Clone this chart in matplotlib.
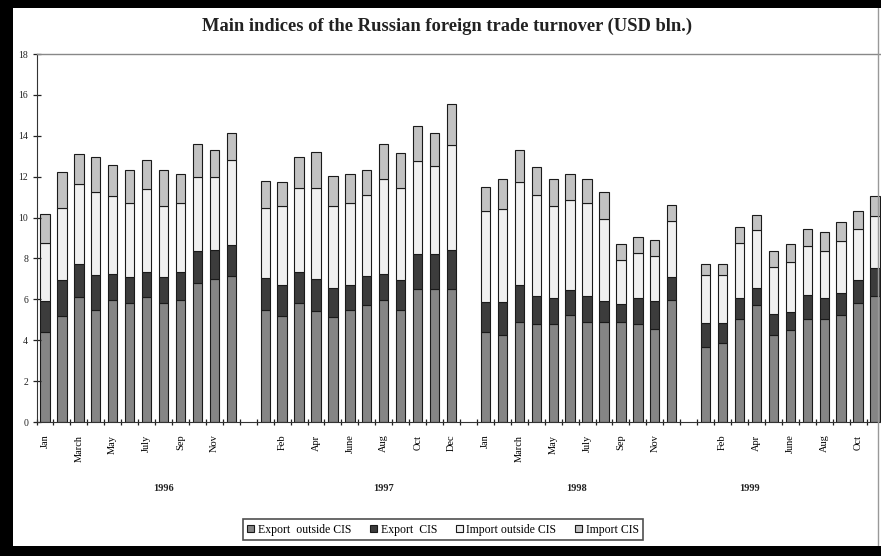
import numpy as np
import matplotlib
matplotlib.use("Agg")
import matplotlib.pyplot as plt
from matplotlib.patches import Rectangle
from matplotlib.lines import Line2D

plt.rcParams['font.family'] = ['Liberation Serif', 'DejaVu Serif']

# ---- data (USD bln.), months Jan 1996 .. Nov 1999 -----------------
years = ["1996", "1997", "1998", "1999"]
months_1996 = ["Jan", "Feb", "March", "Apr", "May", "June", "July", "Aug", "Sep", "Oct", "Nov", "Dec"]
months_1997 = ["Jan", "Feb", "March", "Apr", "May", "June", "July", "Aug", "Sep", "Oct", "Nov", "Dec"]
months_1998 = ["Jan", "Feb", "March", "Apr", "May", "June", "July", "Aug", "Sep", "Oct", "Nov", "Dec"]
months_1999 = ["Jan", "Feb", "March", "Apr", "May", "June", "July", "Aug", "Sep", "Oct", "Nov"]
# labels shown on the axis (every second category)
shown_1996 = ["Jan", "March", "May", "July", "Sep", "Nov"]
shown_1997 = ["Feb", "Apr", "June", "Aug", "Oct", "Dec"]
shown_1998 = ["Jan", "March", "May", "July", "Sep", "Nov"]
shown_1999 = ["Feb", "Apr", "June", "Aug", "Oct"]

# cumulative levels
exp_out_1996 = [4.42, 5.19, 6.10, 5.48, 5.97, 5.84, 6.10, 5.84, 5.97, 6.78, 6.98, 7.14]
exp_tot_1996 = [5.92, 6.95, 7.73, 7.19, 7.22, 7.11, 7.32, 7.11, 7.32, 8.37, 8.41, 8.66]
imp_out_top_1996 = [8.77, 10.45, 11.63, 11.24, 11.06, 10.73, 11.38, 10.57, 10.73, 12.00, 12.00, 12.82]
total_1996 = [10.18, 12.21, 13.10, 12.95, 12.57, 12.33, 12.82, 12.33, 12.12, 13.60, 13.31, 14.12]

exp_out_1997 = [5.48, 5.19, 5.80, 5.45, 5.15, 5.48, 5.72, 5.97, 5.48, 6.49, 6.49, 6.49]
exp_tot_1997 = [7.06, 6.70, 7.35, 6.98, 6.54, 6.70, 7.14, 7.22, 6.95, 8.22, 8.22, 8.41]
imp_out_top_1997 = [10.45, 10.58, 11.47, 11.47, 10.58, 10.70, 11.11, 11.87, 11.47, 12.79, 12.52, 13.55]
total_1997 = [11.79, 11.76, 12.98, 13.19, 12.03, 12.12, 12.33, 13.60, 13.18, 14.48, 14.12, 15.56]

exp_out_1998 = [4.42, 4.26, 4.88, 4.78, 4.78, 5.23, 4.88, 4.88, 4.91, 4.78, 4.53, 5.97]
exp_tot_1998 = [5.89, 5.85, 6.70, 6.18, 6.05, 6.46, 6.18, 5.92, 5.77, 6.05, 5.92, 7.11]
imp_out_top_1998 = [10.32, 10.42, 11.76, 11.11, 10.57, 10.86, 10.70, 9.92, 7.93, 8.25, 8.12, 9.85]
total_1998 = [11.51, 11.87, 13.28, 12.45, 11.87, 12.13, 11.89, 11.24, 8.69, 9.03, 8.90, 10.62]

exp_out_1999 = [3.69, 3.88, 5.04, 5.72, 4.26, 4.50, 5.04, 5.04, 5.23, 5.84, 6.18]
exp_tot_1999 = [4.83, 4.83, 6.05, 6.57, 5.28, 5.40, 6.21, 6.05, 6.33, 6.95, 7.52]
imp_out_top_1999 = [7.19, 7.19, 8.74, 9.39, 7.60, 7.84, 8.63, 8.38, 8.87, 9.43, 10.08]
total_1999 = [7.73, 7.73, 9.56, 10.13, 8.38, 8.69, 9.43, 9.28, 9.80, 10.34, 11.06]

series_names = ["Export  outside CIS", "Export  CIS", "Import outside CIS", "Import CIS"]
colors = ["#858585", "#3c3c3c", "#f0f0f0", "#c2c2c2"]

# ---- build category sequence with one empty slot between years ----
groups = [
    (months_1996, exp_out_1996, exp_tot_1996, imp_out_top_1996, total_1996),
    (months_1997, exp_out_1997, exp_tot_1997, imp_out_top_1997, total_1997),
    (months_1998, exp_out_1998, exp_tot_1998, imp_out_top_1998, total_1998),
    (months_1999, exp_out_1999, exp_tot_1999, imp_out_top_1999, total_1999),
]
xs, l1, l2, l3, l4 = [], [], [], [], []
group_start = []
pos = 0
for gi, (mon, a, b, c, d) in enumerate(groups):
    group_start.append(pos)
    for i in range(len(mon)):
        xs.append(pos); l1.append(a[i]); l2.append(b[i]); l3.append(c[i]); l4.append(d[i])
        pos += 1
    if gi < len(groups) - 1:
        pos += 1  # empty category
ncat = pos
xs = np.array(xs); l1 = np.array(l1); l2 = np.array(l2); l3 = np.array(l3); l4 = np.array(l4)

# tick labels every second category
labels_all = [""] * ncat
for (start, mon, shown) in zip(group_start, [months_1996, months_1997, months_1998, months_1999],
                               [shown_1996, shown_1997, shown_1998, shown_1999]):
    for i, m in enumerate(mon):
        if m in shown:
            labels_all[start + i] = m

# ---- figure ----
W, H = 881, 556
fig = plt.figure(figsize=(W / 100, H / 100), dpi=100)
fig.patch.set_facecolor("white")

ax_left, ax_right = 36.5, 883.5
ax_bot, ax_top = 422, 54
ax = fig.add_axes([ax_left / W, 1 - ax_bot / H, (ax_right - ax_left) / W, (ax_bot - ax_top) / H])

bw = 0.55
ek = dict(edgecolor="#1a1a1a", linewidth=0.8)
ax.bar(xs, l1, bw, color=colors[0], label=series_names[0], **ek)
ax.bar(xs, l2 - l1, bw, bottom=l1, color=colors[1], label=series_names[1], **ek)
ax.bar(xs, l3 - l2, bw, bottom=l2, color=colors[2], label=series_names[2], **ek)
ax.bar(xs, l4 - l3, bw, bottom=l3, color=colors[3], label=series_names[3], **ek)

ax.set_xlim(-0.5, ncat - 0.5)
ax.set_ylim(0, 18)
ax.set_yticks(np.arange(0, 19, 2))
ax.tick_params(axis="y", direction="inout", length=6, width=0.9, labelsize=7, pad=3, colors="#222222")

ax.set_xticks(np.arange(ncat))
ax.set_xticklabels(labels_all, rotation=90, fontsize=7.5, va="top", ha="center")
ax.set_xticks(np.arange(-0.5, ncat, 1.0), minor=True)
ax.tick_params(axis="x", which="major", length=0, pad=9)
ax.tick_params(axis="x", which="minor", direction="inout", length=5, width=0.9, color="#222222")

ax.spines["right"].set_visible(False)
ax.spines["top"].set_color("#888888")
ax.spines["top"].set_linewidth(1.0)
ax.spines["left"].set_color("#333333")
ax.spines["bottom"].set_color("#333333")

# year labels
year_pos = [7.0, 20.0, 31.4, 41.6]
for yx, yl in zip(year_pos, years):
    ax.text(yx, -0.18, yl, transform=ax.get_xaxis_transform(), ha="center", va="center",
            fontsize=7.5, fontweight="bold", color="#222222")

fig.text(447 / W, 1 - 26 / H, "Main indices of the Russian foreign trade turnover (USD bln.)",
         ha="center", va="center", fontsize=13.3, fontweight="bold", color="#222222")

handles, labs = ax.get_legend_handles_labels()
leg = fig.legend(handles, labs, loc="center", bbox_to_anchor=(443 / W, 1 - 529.5 / H), ncol=4,
                 fontsize=8.5, frameon=True, fancybox=False, edgecolor="#222222",
                 handlelength=0.6, handleheight=0.6, handletextpad=0.3, columnspacing=1.6,
                 borderpad=0.35, borderaxespad=0)
leg.get_frame().set_linewidth(1.2)

# black border of the scanned chart
for (x0, y0, w, h) in [(0, 0, 13, H), (0, 0, W, 8), (0, 546, W, 10)]:
    fig.add_artist(Rectangle((x0 / W, 1 - (y0 + h) / H), w / W, h / H, transform=fig.transFigure,
                             facecolor="black", edgecolor="none", zorder=10))
fig.add_artist(Line2D([878 / W, 878 / W], [1 - 546 / H, 1 - 8 / H], transform=fig.transFigure,
                      color="#999999", linewidth=1, zorder=9))

fig.savefig("out.png", dpi=100)
